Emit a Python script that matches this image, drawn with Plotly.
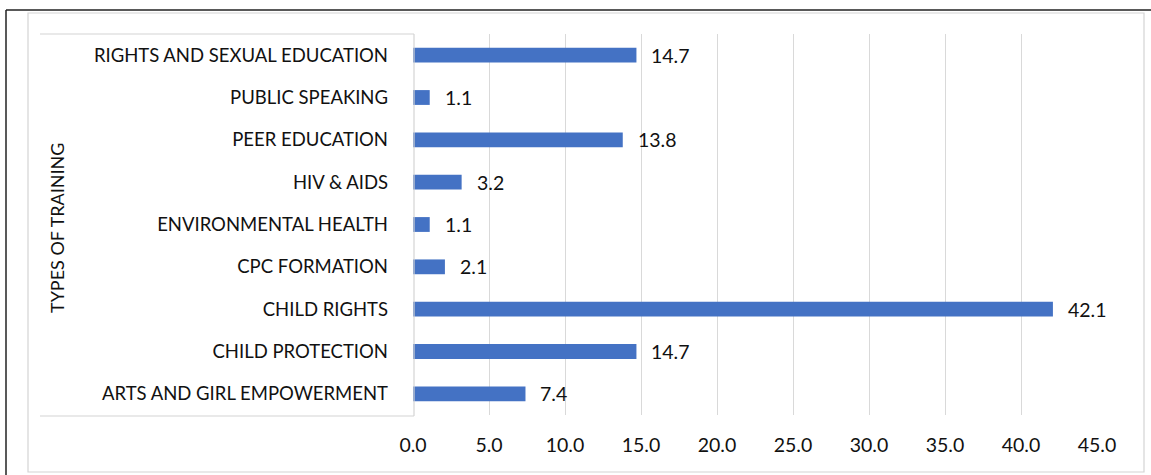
import plotly.graph_objects as go

# Training types (bottom to top, as drawn on the category axis)
categories = [
    "ARTS AND GIRL EMPOWERMENT",
    "CHILD PROTECTION",
    "CHILD RIGHTS",
    "CPC FORMATION",
    "ENVIRONMENTAL HEALTH",
    "HIV & AIDS",
    "PEER EDUCATION",
    "PUBLIC SPEAKING",
    "RIGHTS AND SEXUAL EDUCATION",
]
percentages = [7.4, 14.7, 42.1, 2.1, 1.1, 3.2, 13.8, 1.1, 14.7]
x_ticks = [0, 5, 10, 15, 20, 25, 30, 35, 40, 45]

W, H = 1151, 475
L, R, T, B = 413, 54, 34, 60
PW, PH = W - L - R, H - T - B

FONT = "Lato, Carlito, 'Open Sans', sans-serif"
BAR_COLOR = "#4472C4"
TEXT_COLOR = "#111111"


def px_x(p):
    return (p - L) / PW


def px_y(p):
    return 1 - (p - T) / PH


fig = go.Figure(
    go.Bar(
        x=percentages,
        y=categories,
        orientation="h",
        marker=dict(color=BAR_COLOR, line=dict(width=0)),
        width=0.35,
        hoverinfo="x+y",
    )
)

# value labels placed just past each bar end
annotations = [
    dict(
        x=v, y=c, xref="x", yref="y", text=f"{v:.1f}", showarrow=False,
        xanchor="left", yanchor="middle", xshift=13,
        font=dict(family=FONT, size=19.5, color=TEXT_COLOR),
    )
    for c, v in zip(categories, percentages)
]

# rotated axis title
annotations.append(
    dict(
        x=px_x(57), y=px_y(228), xref="paper", yref="paper",
        text="TYPES OF TRAINING", showarrow=False, textangle=-90,
        xanchor="center", yanchor="middle",
        font=dict(family=FONT, size=18, color=TEXT_COLOR),
    )
)

frame_gray = "#D4D4D4"
shapes = [
    # outer dark frame (top and left edges)
    dict(type="line", xref="paper", yref="paper",
         x0=px_x(6), x1=px_x(W + 5), y0=px_y(10), y1=px_y(10),
         line=dict(color="#222222", width=1.5)),
    dict(type="line", xref="paper", yref="paper",
         x0=px_x(6), x1=px_x(6), y0=px_y(10), y1=px_y(H + 5),
         line=dict(color="#222222", width=1.5)),
    # light chart-area frame
    dict(type="rect", xref="paper", yref="paper",
         x0=px_x(28), x1=px_x(1144), y0=px_y(13), y1=px_y(472),
         line=dict(color=frame_gray, width=1.2)),
    # category label panel
    dict(type="line", xref="paper", yref="paper",
         x0=px_x(40), x1=px_x(414), y0=px_y(34), y1=px_y(34),
         line=dict(color=frame_gray, width=1.2)),
    dict(type="line", xref="paper", yref="paper",
         x0=px_x(414), x1=px_x(414), y0=px_y(34), y1=px_y(416),
         line=dict(color=frame_gray, width=1.2)),
    dict(type="line", xref="paper", yref="paper",
         x0=px_x(40), x1=px_x(414), y0=px_y(416), y1=px_y(416),
         line=dict(color=frame_gray, width=1.2)),
]

fig.update_layout(
    width=W,
    height=H,
    margin=dict(l=L, r=R, t=T, b=B, pad=0),
    paper_bgcolor="white",
    plot_bgcolor="white",
    showlegend=False,
    font=dict(family=FONT, size=18, color=TEXT_COLOR),
    annotations=annotations,
    shapes=shapes,
    xaxis=dict(
        range=[0, 45],
        tickvals=x_ticks,
        ticktext=[f"{t:.1f}" for t in x_ticks],
        showgrid=True,
        gridcolor="#D9D9D9",
        gridwidth=1.2,
        zeroline=False,
        showline=False,
        ticks="",
        ticklabelstandoff=16,
        tickfont=dict(family=FONT, size=19.5, color=TEXT_COLOR),
        fixedrange=True,
    ),
    yaxis=dict(
        categoryorder="array",
        categoryarray=categories,
        showgrid=False,
        zeroline=False,
        showline=False,
        ticks="",
        ticklabelstandoff=24,
        tickfont=dict(family=FONT, size=18.5, color=TEXT_COLOR),
        fixedrange=True,
    ),
)

fig.write_html("out.html")
